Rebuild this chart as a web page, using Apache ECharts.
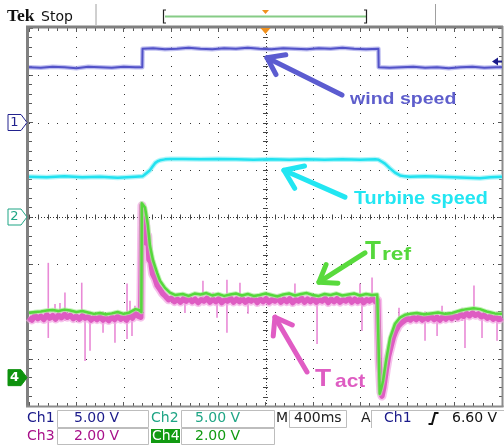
<!DOCTYPE html>
<html><head><meta charset="utf-8">
<script src="https://cdn.jsdelivr.net/npm/echarts@6/dist/echarts.min.js"></script>
<style>html,body{margin:0;padding:0;background:#fff}#c{width:504px;height:448px}</style>
</head><body><div id="c"></div>
<script>
// time in ms (400 ms/div), vertical position in screen divisions (-4..4)
const windSpeed = [[-2000,3.17],[-1900,3.16],[-1800,3.18],[-1700,3.17],[-1600,3.15],[-1500,3.18],[-1400,3.17],[-1300,3.16],[-1200,3.18],[-1100,3.17],[-1042,3.17],[-1040,3.56],[-950,3.57],[-850,3.55],[-750,3.56],[-650,3.58],[-550,3.56],[-450,3.55],[-350,3.57],[-250,3.56],[-150,3.58],[-50,3.56],[50,3.55],[150,3.57],[250,3.56],[350,3.55],[450,3.57],[550,3.56],[650,3.58],[750,3.56],[850,3.55],[955,3.56],[957,3.17],[1050,3.16],[1150,3.17],[1250,3.18],[1350,3.16],[1450,3.17],[1550,3.15],[1650,3.17],[1750,3.18],[1850,3.16],[1950,3.17],[2000,3.17]];

const turbineSpeed = [[-2000,0.85],[-1850,0.84],[-1700,0.86],[-1550,0.84],[-1400,0.85],[-1250,0.83],[-1100,0.85],[-1040,0.86],[-1010,0.92],[-977,0.99],[-955,1.07],[-934,1.14],[-912,1.18],[-892,1.20],[-850,1.22],[-808,1.23],[-700,1.23],[-550,1.22],[-400,1.23],[-250,1.22],[-100,1.21],[50,1.22],[200,1.21],[350,1.22],[500,1.21],[650,1.22],[800,1.21],[930,1.22],[957,1.21],[985,1.17],[1010,1.13],[1053,1.03],[1095,0.94],[1137,0.88],[1180,0.86],[1222,0.85],[1350,0.86],[1476,0.85],[1600,0.84],[1700,0.83],[1814,0.82],[1900,0.84],[2000,0.85]];

const torqueRef = [[-2000,-2.03],[-1950,-2.01],[-1900,-2.00],[-1850,-1.98],[-1800,-1.97],[-1750,-1.99],[-1700,-1.96],[-1650,-1.98],[-1600,-2.01],[-1550,-1.99],[-1500,-2.02],[-1450,-2.05],[-1400,-2.03],[-1350,-2.06],[-1300,-2.04],[-1250,-2.01],[-1200,-2.05],[-1150,-2.02],[-1100,-1.95],[-1070,-1.97],[-1050,-2.01],[-1046,0.29],[-1030,0.26],[-1019,0.20],[-1005,0.00],[-994,-0.18],[-977,-0.61],[-951,-0.92],[-917,-1.18],[-892,-1.35],[-850,-1.50],[-808,-1.60],[-765,-1.65],[-700,-1.63],[-650,-1.67],[-600,-1.62],[-550,-1.64],[-500,-1.61],[-450,-1.66],[-400,-1.63],[-350,-1.67],[-300,-1.64],[-250,-1.62],[-200,-1.66],[-150,-1.63],[-100,-1.67],[-50,-1.65],[0,-1.62],[50,-1.65],[100,-1.68],[150,-1.64],[200,-1.62],[250,-1.66],[300,-1.63],[350,-1.61],[400,-1.65],[450,-1.67],[500,-1.63],[550,-1.65],[600,-1.62],[650,-1.66],[700,-1.64],[750,-1.62],[800,-1.66],[850,-1.63],[900,-1.65],[945,-1.64],[955,-2.60],[966,-3.74],[980,-3.62],[994,-3.47],[1019,-3.05],[1053,-2.56],[1095,-2.26],[1137,-2.13],[1180,-2.07],[1222,-2.05],[1280,-2.03],[1340,-2.06],[1400,-2.04],[1460,-2.02],[1520,-2.05],[1580,-2.03],[1646,-1.98],[1700,-1.95],[1760,-1.93],[1814,-1.95],[1870,-2.00],[1940,-2.04],[2000,-2.05]];

const torqueAct = [[-2000,-2.12],[-1975,-2.18],[-1950,-2.08],[-1925,-2.15],[-1900,-2.10],[-1875,-2.17],[-1850,-2.07],[-1825,-2.14],[-1800,-2.09],[-1775,-2.16],[-1750,-2.08],[-1725,-2.13],[-1700,-2.06],[-1675,-2.12],[-1650,-2.08],[-1625,-2.15],[-1600,-2.10],[-1575,-2.16],[-1550,-2.09],[-1525,-2.14],[-1500,-2.11],[-1475,-2.18],[-1450,-2.12],[-1425,-2.17],[-1400,-2.11],[-1375,-2.18],[-1350,-2.13],[-1325,-2.19],[-1300,-2.12],[-1275,-2.17],[-1250,-2.10],[-1225,-2.16],[-1200,-2.12],[-1175,-2.18],[-1150,-2.08],[-1125,-2.14],[-1100,-2.04],[-1075,-2.10],[-1055,-2.12],[-1045,0.24],[-1035,0.10],[-1025,-0.30],[-1015,-0.10],[-1005,-0.55],[-995,-0.40],[-985,-0.90],[-970,-0.95],[-955,-1.20],[-935,-1.30],[-915,-1.45],[-895,-1.52],[-870,-1.62],[-845,-1.68],[-820,-1.75],[-795,-1.72],[-770,-1.79],[-745,-1.74],[-720,-1.80],[-695,-1.73],[-670,-1.78],[-645,-1.72],[-620,-1.79],[-595,-1.74],[-570,-1.81],[-545,-1.75],[-520,-1.78],[-495,-1.72],[-470,-1.80],[-445,-1.74],[-420,-1.79],[-395,-1.73],[-370,-1.81],[-345,-1.75],[-320,-1.78],[-295,-1.72],[-270,-1.80],[-245,-1.74],[-220,-1.79],[-195,-1.73],[-170,-1.80],[-145,-1.75],[-120,-1.78],[-95,-1.72],[-70,-1.81],[-45,-1.74],[-20,-1.79],[5,-1.73],[30,-1.80],[55,-1.75],[80,-1.78],[105,-1.72],[130,-1.80],[155,-1.74],[180,-1.79],[205,-1.73],[230,-1.81],[255,-1.75],[280,-1.78],[305,-1.72],[330,-1.80],[355,-1.74],[380,-1.79],[405,-1.73],[430,-1.80],[455,-1.75],[480,-1.78],[505,-1.72],[530,-1.81],[555,-1.74],[580,-1.79],[605,-1.73],[630,-1.80],[655,-1.75],[680,-1.78],[705,-1.72],[730,-1.80],[755,-1.74],[780,-1.79],[805,-1.73],[830,-1.81],[855,-1.75],[880,-1.78],[905,-1.72],[930,-1.79],[948,-1.76],[960,-3.00],[975,-3.70],[985,-3.79],[1000,-3.60],[1020,-3.25],[1040,-2.95],[1060,-2.75],[1080,-2.55],[1100,-2.42],[1125,-2.30],[1150,-2.24],[1175,-2.19],[1200,-2.14],[1225,-2.18],[1250,-2.12],[1275,-2.17],[1300,-2.11],[1325,-2.18],[1350,-2.12],[1375,-2.16],[1400,-2.10],[1425,-2.17],[1450,-2.12],[1475,-2.18],[1500,-2.11],[1525,-2.16],[1550,-2.10],[1575,-2.15],[1600,-2.09],[1625,-2.13],[1650,-2.06],[1675,-2.10],[1700,-2.04],[1725,-2.09],[1750,-2.03],[1775,-2.08],[1800,-2.05],[1825,-2.11],[1850,-2.08],[1875,-2.14],[1900,-2.10],[1925,-2.16],[1950,-2.12],[1975,-2.17],[2000,-2.13]];

// noise spikes on T act: [time, low, high]
const torqueActSpikes = [[-1837,-2.56,-0.97],[-1780,-2.20,-1.84],[-1738,-2.20,-1.82],[-1696,-2.20,-1.60],[-1554,-2.20,-1.39],[-1526,-3.05,-2.00],[-1484,-2.83,-2.00],[-1374,-2.45,-2.00],[-1273,-2.66,-2.00],[-1171,-2.58,-1.41],[-1146,-2.10,-1.77],[-1129,-2.52,-2.00],[-1104,-2.10,-1.88],[-681,-2.03,-1.70],[-529,-1.80,-1.35],[-444,-1.80,-1.60],[-410,-2.13,-1.70],[-326,-2.45,-1.33],[-216,-1.80,-1.39],[-148,-2.05,-1.70],[249,-1.80,-1.41],[436,-2.69,-1.70],[799,-1.80,-1.41],[816,-2.41,-1.70],[901,-1.80,-1.28],[1129,-2.30,-1.92],[1349,-2.62,-2.00],[1451,-2.52,-2.00],[1493,-2.10,-1.88],[1662,-2.20,-1.92],[1687,-2.77,-2.00],[1763,-2.10,-1.45],[1831,-2.56,-2.00],[1958,-2.62,-2.00]];

const chart = echarts.init(document.getElementById('c'), null, {renderer:'canvas', width:504, height:448});

const tickStyle = {color:'#5a5a5a', width:1};
function xAxisCfg(pos){
  return {type:'value', position:pos, min:-2000, max:2000, interval:400,
    axisLabel:{show:false}, axisLine:{show:false, onZero:false},
    axisTick:{show:true, inside:true, length:4, lineStyle:tickStyle},
    minorTick:{show:true, splitNumber:5, length:3, lineStyle:tickStyle},
    splitLine:{show:false}};
}
function yAxisCfg(pos){
  return {type:'value', position:pos, min:-4, max:4, interval:1,
    axisLabel:{show:false}, axisLine:{show:false, onZero:false},
    axisTick:{show:true, inside:true, length:4, lineStyle:tickStyle},
    minorTick:{show:true, splitNumber:5, length:3, lineStyle:tickStyle},
    splitLine:{show:false}};
}

function line(name, data, color, width, z, opacity){
  return {type:'line', name, data, showSymbol:false, symbol:'none', z, silent:true,
    lineStyle:{color, width, opacity: opacity==null?1:opacity, join:'round'}};
}

const option = {
  animation:false,
  backgroundColor:'#ffffff',
  grid:{left:29, top:28, right:2, bottom:42, show:false},
  xAxis:[xAxisCfg('bottom'), xAxisCfg('top')],
  yAxis:[yAxisCfg('left'), yAxisCfg('right')],
  series:[
    {type:'custom', z:1, silent:true, data:[[0,0]], clip:false,
     renderItem(params, api){
       const L=api.coord([-2000,0]), R=api.coord([2000,0]), T=api.coord([0,4]), B=api.coord([0,-4]);
       const TL=api.coord([-2000,4]), BR=api.coord([2000,-4]);
       const ch=[];
       // dotted graticule: a dot at every minor division along each major line
       for(let j=-3;j<=3;j++){ if(j===0) continue;
         for(let k=-25;k<=25;k++){ const p=api.coord([k*80,j]);
           ch.push({type:'rect',shape:{x:Math.round(p[0]),y:Math.round(p[1]),width:1,height:1},style:{fill:'#333'}}); } }
       for(let i=-4;i<=4;i++){ if(i===0) continue;
         for(let k=-20;k<=20;k++){ const p=api.coord([i*400,k*0.2]);
           ch.push({type:'rect',shape:{x:Math.round(p[0]),y:Math.round(p[1]),width:1,height:1},style:{fill:'#333'}}); } }
       ch.push({type:'line', shape:{x1:L[0],y1:Math.round(L[1])+0.5,x2:R[0],y2:Math.round(R[1])+0.5}, style:{stroke:'#333',lineWidth:1,lineDash:[1,2]}});
       ch.push({type:'line', shape:{x1:Math.round(T[0])+0.5,y1:T[1],x2:Math.round(B[0])+0.5,y2:B[1]}, style:{stroke:'#333',lineWidth:1,lineDash:[1,2]}});
       for(let k=-25;k<=25;k++){const p=api.coord([k*80,0]);const x=Math.round(p[0])+0.5;ch.push({type:'line',shape:{x1:x,y1:p[1]-2.5,x2:x,y2:p[1]+2.5},style:{stroke:'#444',lineWidth:1}});}
       for(let k=-20;k<=20;k++){const p=api.coord([0,k*0.2]);const y=Math.round(p[1])+0.5;ch.push({type:'line',shape:{x1:p[0]-2.5,y1:y,x2:p[0]+2.5,y2:y},style:{stroke:'#444',lineWidth:1}});}
       ch.push({type:'line',shape:{x1:TL[0]-1.5,y1:TL[1]-2,x2:TL[0]-1.5,y2:BR[1]+1},style:{stroke:'#808080',lineWidth:3}});
       ch.push({type:'line',shape:{x1:TL[0]-3,y1:TL[1]-1,x2:BR[0]+1,y2:TL[1]-1},style:{stroke:'#808080',lineWidth:3}});
       ch.push({type:'line',shape:{x1:BR[0]+0.5,y1:TL[1]-2,x2:BR[0]+0.5,y2:BR[1]+1},style:{stroke:'#8c8c8c',lineWidth:2}});
       ch.push({type:'line',shape:{x1:TL[0]-3,y1:BR[1]+0.5,x2:BR[0]+1.5,y2:BR[1]+0.5},style:{stroke:'#8c8c8c',lineWidth:2}});
       return {type:'group', children:ch};
     }},
    {type:'custom', z:2, silent:true, data:torqueActSpikes, encode:{x:0,y:[1,2]},
     renderItem(params, api){
       const a=api.coord([api.value(0),api.value(1)]), b=api.coord([api.value(0),api.value(2)]);
       return {type:'line', shape:{x1:a[0],y1:a[1],x2:b[0],y2:b[1]}, style:{stroke:'#e98ad6',lineWidth:1.6}};
     }},
    line('T act halo', torqueAct, '#f2a6e2', 9, 3, 0.7),
    line('T act', torqueAct, '#de5cc2', 5.5, 4),
    line('T ref halo', torqueRef, '#a8ee98', 4.5, 5, 0.7),
    line('T ref', torqueRef, '#55d83c', 2.5, 6),
    line('Turbine halo', turbineSpeed, '#9ef2f8', 5, 7, 0.8),
    line('Turbine speed', turbineSpeed, '#22e2f0', 2.5, 8),
    line('Wind halo', windSpeed, '#a4a4ea', 4.5, 9, 0.7),
    line('wind speed', windSpeed, '#5252c8', 2, 10)
  ]
};
chart.setOption(option);

// annotations in data coordinates
const arrows = [
  {tail:[647,2.58], tip:[13,3.37], color:'#5c5cd0', wing:19},
  {tail:[672,0.42], tip:[156,0.99], color:'#22e6f2', wing:21},
  {tail:[841,-0.76], tip:[452,-1.38], color:'#58da3c', wing:19},
  {tail:[351,-3.28], tip:[80,-2.12], color:'#e05cc4', wing:19}
];
const labels = [
  {at:[715,2.37], parts:[{t:'wind speed', fs:16, dx:0, sx:1.22}], color:'#5e5ecc'},
  {at:[748,0.25], parts:[{t:'Turbine speed', fs:18, dx:0, sx:1.1}], color:'#22e6f2'},
  {at:[841,-0.93], parts:[{t:'T', fs:26, dx:0, sx:1},{t:'ref', fs:19, dx:17, sx:1.2}], color:'#55d83c'},
  {at:[419,-3.62], parts:[{t:'T', fs:24, dx:0, sx:1.1},{t:'act', fs:19, dx:20, sx:1.1}], color:'#de5cc2'}
];

function px(p){ return chart.convertToPixel({gridIndex:0}, p); }
const g = [];
arrows.forEach(a=>{
  const A=px(a.tail), B=px(a.tip);
  const ang=Math.atan2(A[1]-B[1], A[0]-B[0]), h=0.62;
  const w1=[B[0]+a.wing*Math.cos(ang+h), B[1]+a.wing*Math.sin(ang+h)];
  const w2=[B[0]+a.wing*Math.cos(ang-h), B[1]+a.wing*Math.sin(ang-h)];
  g.push({type:'line', z:20, shape:{x1:A[0],y1:A[1],x2:B[0],y2:B[1]}, style:{stroke:a.color,lineWidth:5,lineCap:'round'}});
  g.push({type:'polyline', z:20, shape:{points:[w1,B,w2]}, style:{stroke:a.color,lineWidth:5,lineCap:'round',lineJoin:'round',fill:null}});
});
labels.forEach(l=>{
  const P=px(l.at);
  l.parts.forEach(p=>{
    g.push({type:'text', z:21, x:P[0]+p.dx, y:P[1]-0.35*p.fs, scaleX:p.sx,
      style:{text:p.t, font:'bold '+p.fs+'px "Liberation Sans", Arial, sans-serif', fill:l.color, verticalAlign:'middle', align:'left'}});
  });
});

// channel ground markers & trigger level
function marker(v, color, filled, label){
  const y=px([-2000,v])[1];
  g.push({type:'polygon', z:22, shape:{points:[[8,y-8],[21,y-8],[27,y],[21,y+8],[8,y+8]]},
    style:{fill:filled?color:'#fff', stroke:color, lineWidth:1}});
  g.push({type:'text', z:23, x:14.5, y:y, style:{text:label, font:(filled?'bold ':'')+'13px "DejaVu Sans"', fill:filled?'#fff':color, align:'center', verticalAlign:'middle'}});
}
marker(2, '#22228e', false, '1');
marker(0, '#1fa585', false, '2');
marker(-3.40, '#0e920e', true, '4');
const trg=px([2000,3.29]);
g.push({type:'polygon', z:22, shape:{points:[[trg[0]-10,trg[1]],[trg[0]-4,trg[1]-4],[trg[0]-4,trg[1]+4]]}, style:{fill:'#1a1a8a'}});
g.push({type:'line', z:22, shape:{x1:trg[0]-5,y1:trg[1],x2:trg[0],y2:trg[1]}, style:{stroke:'#1a1a8a',lineWidth:2}});
const ctr=px([0,4]);
g.push({type:'polygon', z:22, shape:{points:[[ctr[0]-5,ctr[1]],[ctr[0]+5,ctr[1]],[ctr[0],ctr[1]+6]]}, style:{fill:'#f0901c'}});

// top status bar
g.push({type:'text', x:7, y:16, style:{text:'Tek', font:'bold 17.5px "Liberation Serif", serif', fill:'#111', verticalAlign:'middle'}});
g.push({type:'text', x:41, y:17, style:{text:'Stop', font:'14px "DejaVu Sans"', fill:'#111', verticalAlign:'middle'}});
g.push({type:'line', shape:{x1:96,y1:4,x2:96,y2:25}, style:{stroke:'#a0a0a0',lineWidth:1}});
g.push({type:'line', shape:{x1:435.5,y1:4,x2:435.5,y2:25}, style:{stroke:'#a0a0a0',lineWidth:1}});
g.push({type:'line', shape:{x1:165,y1:16.5,x2:366,y2:16.5}, style:{stroke:'#86cc86',lineWidth:2}});
g.push({type:'polyline', shape:{points:[[166,10],[163.5,10],[163.5,23],[166,23]]}, style:{stroke:'#222',lineWidth:1.2,fill:null}});
g.push({type:'polyline', shape:{points:[[364,10],[366.5,10],[366.5,23],[364,23]]}, style:{stroke:'#222',lineWidth:1.2,fill:null}});
g.push({type:'polygon', shape:{points:[[262,10],[269,10],[265.5,14]]}, style:{fill:'#f0901c'}});

// bottom status bar
const F='14px "DejaVu Sans", sans-serif';
function box(x1,y1,x2,y2){ g.push({type:'rect', shape:{x:x1+0.5,y:y1+0.5,width:x2-x1,height:y2-y1}, style:{fill:'#fff',stroke:'#bdbdbd',lineWidth:1}}); }
function txt(s,x,y,color,extra){ g.push(Object.assign({type:'text', z:5, x, y, style:{text:s, font:F, fill:color, verticalAlign:'middle'}}, extra||{})); }
box(57,410,148,427); box(181,410,274,427); box(57,428,148,444); box(181,428,274,444); box(289,410,346,427);
g.push({type:'rect', shape:{x:151,y:429,width:29,height:14}, style:{fill:'#119a11'}});
g.push({type:'line', shape:{x1:371.5,y1:410,x2:371.5,y2:428}, style:{stroke:'#bdbdbd',lineWidth:1}});
g.push({type:'line', shape:{x1:371,y1:410.5,x2:504,y2:410.5}, style:{stroke:'#bdbdbd',lineWidth:1}});
txt('Ch1',27,418.5,'#1a1a8a'); txt('5.00 V',74,418.5,'#1a1a8a');
txt('Ch2',151,418.5,'#1fa585'); txt('5.00 V',195,418.5,'#1fa585');
txt('Ch3',27,436.5,'#a8108a'); txt('2.00 V',74,436.5,'#a8108a');
txt('Ch4',152,436.5,'#ffffff'); txt('2.00 V',195,436.5,'#119a11');
txt('M',276,418.5,'#222'); txt('400ms',294,418.5,'#222'); txt('A',361,418.5,'#222');
txt('Ch1',384,418.5,'#1a1a8a'); txt('6.60 V',452,418.5,'#111');
g.push({type:'polyline', shape:{points:[[428.5,424],[432,424],[435,413],[438.5,413]]}, style:{stroke:'#111',lineWidth:2,fill:null}});

chart.setOption({graphic:g});
</script>
</body></html>
